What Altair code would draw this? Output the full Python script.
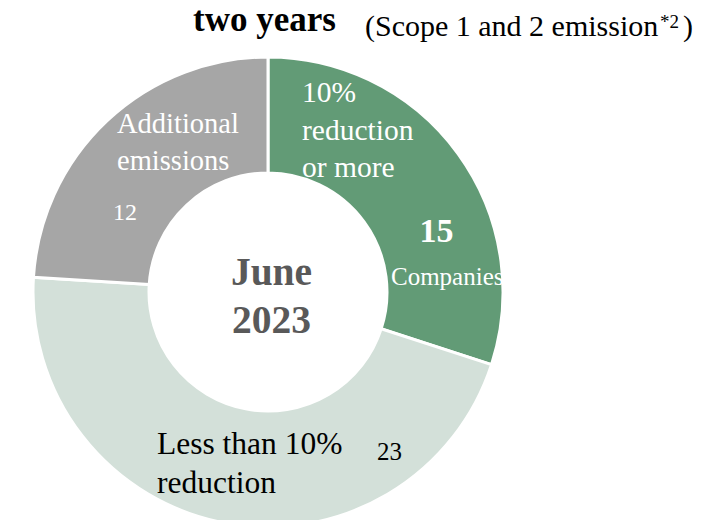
import altair as alt
import pandas as pd

# ---- data ----
categories = ["10% reduction or more", "Less than 10% reduction", "Additional emissions"]
values = [15, 23, 12]
order_idx = [0, 1, 2]
colors = ["#629B76", "#D3E0D9", "#A6A6A6"]

df = pd.DataFrame({"category": categories, "value": values, "idx": order_idx})

FONT = "Liberation Serif"

arc = alt.Chart(df).mark_arc(
    outerRadius=235, innerRadius=119, stroke="white", strokeWidth=3
).encode(
    theta=alt.Theta("value:Q", stack=True),
    order=alt.Order("idx:Q"),
    color=alt.Color("category:N", scale=alt.Scale(domain=categories, range=colors), legend=None),
    x=alt.value(260),
    y=alt.value(284),
)

base = alt.Chart(df.head(1))


def txt(text, x, y, size, color="black", bold=False, align="left", line_height=None):
    kw = dict(font=FONT, fontSize=size, color=color, align=align, baseline="alphabetic",
              fontWeight="bold" if bold else "normal")
    if line_height is not None:
        kw["lineHeight"] = line_height
    return base.mark_text(**kw).encode(x=alt.value(x), y=alt.value(y), text=alt.value(text))


layers = [
    arc,
    # title fragment
    txt("two years", 185, 23, 35, bold=True),
    txt("(Scope 1 and 2 emission", 357, 28, 30),
    txt("*2", 652, 20, 19),
    txt(")", 675, 28, 30),
    # green slice
    txt(["10%", "reduction", "or more"], 294, 94, 29.5, color="white", line_height=37.5),
    txt(str(values[0]), 428.5, 234, 34, color="white", bold=True, align="center"),
    txt("Companies", 383, 277, 25, color="white"),
    # centre
    txt(["June", "2023"], 263.5, 277, 39.5, color="#595959", bold=True, align="center", line_height=48),
    # gray slice
    txt(["Additional", "emissions"], 109, 125, 28.5, color="white", line_height=37),
    txt(str(values[2]), 105, 212, 24, color="white"),
    # light slice
    txt(["Less than 10%", "reduction"], 149, 446, 31.5, line_height=39),
    txt(str(values[1]), 369, 452, 25),
]

chart = alt.layer(*layers).properties(
    width=703, height=512, padding=0, autosize="none"
).configure_view(stroke=None)

chart.save("out.html", embed_options={"renderer": "svg", "actions": False})
